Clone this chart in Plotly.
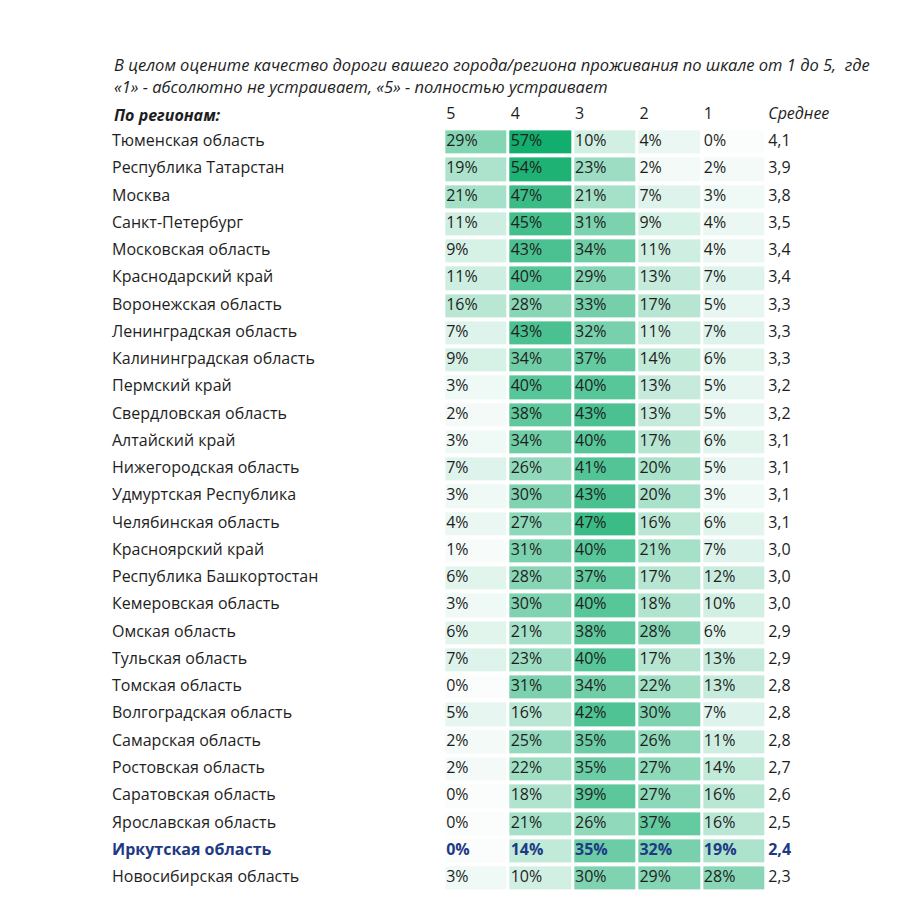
import plotly.graph_objects as go

regions = [
    "Тюменская область", "Республика Татарстан", "Москва", "Санкт-Петербург",
    "Московская область", "Краснодарский край", "Воронежская область",
    "Ленинградская область", "Калининградская область", "Пермский край",
    "Свердловская область", "Алтайский край", "Нижегородская область",
    "Удмуртская Республика", "Челябинская область", "Красноярский край",
    "Республика Башкортостан", "Кемеровская область", "Омская область",
    "Тульская область", "Томская область", "Волгоградская область",
    "Самарская область", "Ростовская область", "Саратовская область",
    "Ярославская область", "Иркутская область", "Новосибирская область",
]
score_5 = [29, 19, 21, 11, 9, 11, 16, 7, 9, 3, 2, 3, 7, 3, 4, 1, 6, 3, 6, 7, 0, 5, 2, 2, 0, 0, 0, 3]
score_4 = [57, 54, 47, 45, 43, 40, 28, 43, 34, 40, 38, 34, 26, 30, 27, 31, 28, 30, 21, 23, 31, 16, 25, 22, 18, 21, 14, 10]
score_3 = [10, 23, 21, 31, 34, 29, 33, 32, 37, 40, 43, 40, 41, 43, 47, 40, 37, 40, 38, 40, 34, 42, 35, 35, 39, 26, 35, 30]
score_2 = [4, 2, 7, 9, 11, 13, 17, 11, 14, 13, 13, 17, 20, 20, 16, 21, 17, 18, 28, 17, 22, 30, 26, 27, 27, 37, 32, 29]
score_1 = [0, 2, 3, 4, 4, 7, 5, 7, 6, 5, 5, 6, 5, 3, 6, 7, 12, 10, 6, 13, 13, 7, 11, 14, 16, 16, 19, 28]
average = ["4,1", "3,9", "3,8", "3,5", "3,4", "3,4", "3,3", "3,3", "3,3", "3,2", "3,2", "3,1", "3,1", "3,1",
           "3,1", "3,0", "3,0", "3,0", "2,9", "2,9", "2,8", "2,8", "2,8", "2,7", "2,6", "2,5", "2,4", "2,3"]
score_labels = ["5", "4", "3", "2", "1"]
highlight = "Иркутская область"

title_line1 = "В целом оцените качество дороги вашего города/региона проживания по шкале от 1 до 5,  где"
title_line2 = "«1» - абсолютно не устраивает, «5» - полностью устраивает"

FONT = "Open Sans"
TEXT = "#1E1E1E"
HILITE = "#1F3A85"

columns = [score_5, score_4, score_3, score_2, score_1]
n = len(regions)
rows = list(range(n))
z = [[col[i] for col in columns] for i in rows]

fig = go.Figure()

fig.add_trace(go.Heatmap(
    z=z, x=list(range(5)), y=rows,
    zmin=0, zmax=57,
    colorscale=[[0, "#FBFDFC"], [1, "#12AE6E"]],
    xgap=3, ygap=4, showscale=False, hoverinfo="skip",
))


def colors_for(default):
    return [HILITE if r == highlight else default for r in regions]


def bold_if_highlight(labels):
    return ["<b>%s</b>" % t if regions[i] == highlight else t for i, t in enumerate(labels)]


# region names
fig.add_trace(go.Scatter(
    x=[-5.66] * n, y=rows, mode="text", text=bold_if_highlight(regions),
    textposition="middle right",
    textfont=dict(family=FONT, size=16, color=colors_for(TEXT)),
    hoverinfo="skip", showlegend=False,
))

# percentages in cells
for j, col in enumerate(columns):
    fig.add_trace(go.Scatter(
        x=[j - 0.47] * n, y=rows, mode="text",
        text=bold_if_highlight(["%d%%" % v for v in col]),
        textposition="middle right",
        textfont=dict(family=FONT, size=16, color=colors_for(TEXT)),
        hoverinfo="skip", showlegend=False,
    ))

# averages
fig.add_trace(go.Scatter(
    x=[4.53] * n, y=rows, mode="text", text=bold_if_highlight(average),
    textposition="middle right",
    textfont=dict(family=FONT, size=16, color=colors_for(TEXT)),
    hoverinfo="skip", showlegend=False,
))

# header row
fig.add_trace(go.Scatter(
    x=[j - 0.47 for j in range(5)] + [4.53], y=[-1] * 6, mode="text",
    text=score_labels + ["<i>Среднее</i>"],
    textposition="middle right",
    textfont=dict(family=FONT, size=16, color=TEXT),
    hoverinfo="skip", showlegend=False,
))
fig.add_annotation(x=-5.66, y=-1, text="<b><i>По регионам:</i></b>", showarrow=False,
                   xanchor="left", yanchor="middle",
                   font=dict(family=FONT, size=16, color=TEXT))

for yy, line in [(-2.84, title_line1), (-2.02, title_line2)]:
    fig.add_annotation(x=-5.66, y=yy, text="<i>%s</i>" % line, showarrow=False,
                       xanchor="left", yanchor="middle",
                       font=dict(family=FONT, size=16.5, color=TEXT))

# the page puts the figure 8px in from the top-left corner
px_per_x = 64.4
x0_px = 476.5 - 8
px_per_y = 27.26
y0_px = 142 - 8

fig.update_layout(
    width=900, height=900,
    margin=dict(l=0, r=0, t=0, b=0),
    paper_bgcolor="white", plot_bgcolor="white",
    showlegend=False,
    xaxis=dict(range=[-x0_px / px_per_x, (900 - x0_px) / px_per_x],
               visible=False, fixedrange=True),
    yaxis=dict(range=[(900 - y0_px) / px_per_y, -y0_px / px_per_y],
               visible=False, fixedrange=True),
)

fig.write_html("out.html")
